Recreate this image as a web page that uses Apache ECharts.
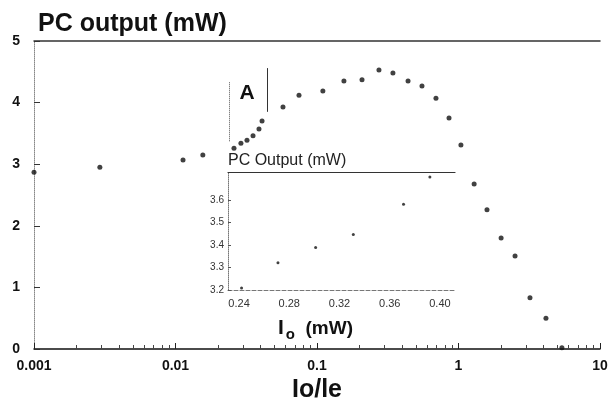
<!DOCTYPE html>
<html><head><meta charset="utf-8">
<script src="https://cdn.jsdelivr.net/npm/echarts@6/dist/echarts.min.js"></script>
<style>html,body{margin:0;padding:0;background:#fff}#c{width:615px;height:403px}</style>
</head><body><div id="c"></div>
<script>
// Main curve: PC output (mW) vs Io/Ie
const mainX = [0.001, 0.00292, 0.0113, 0.0156, 0.0259, 0.0290, 0.0320, 0.0353, 0.0389, 0.0409,
  0.0575, 0.0746, 0.110, 0.155, 0.208, 0.274, 0.344, 0.440, 0.552, 0.693, 0.857,
  1.04, 1.29, 1.59, 2.00, 2.51, 3.20, 4.15, 5.38];
const mainY = [2.87, 2.95, 3.07, 3.15, 3.26, 3.34, 3.39, 3.46, 3.57, 3.70,
  3.93, 4.12, 4.19, 4.35, 4.37, 4.53, 4.48, 4.35, 4.27, 4.07, 3.75,
  3.31, 2.68, 2.26, 1.80, 1.51, 0.83, 0.50, 0.02];
// Inset A: PC Output (mW) vs I0 (mW)
const insetX = [0.242, 0.271, 0.301, 0.331, 0.371, 0.392];
const insetY = [3.209, 3.321, 3.389, 3.447, 3.582, 3.703];
const insetXTicks = [0.24, 0.28, 0.32, 0.36, 0.40];
const insetYTicks = [3.2, 3.3, 3.4, 3.5, 3.6];
const mainYTicks = [0, 1, 2, 3, 4, 5];
// Region A bounds (Io/Ie, PC output)
const regionA = { left: 0.0239, leftY: [4.33, 3.36], right: 0.0444, rightY: [4.56, 3.85], label: [0.032, 4.16] };

const minorTicks = [];
[0.001, 0.01, 0.1, 1].forEach(d => { for (let k = 2; k <= 9; k++) minorTicks.push(+(d * k).toPrecision(3)); });

const FONT = 'Liberation Sans';
const chart = echarts.init(document.getElementById('c'));
chart.setOption({
  animation: false,
  backgroundColor: '#fff',
  textStyle: { fontFamily: FONT },
  title: { text: 'PC output (mW)', left: 33, top: 7,
    textStyle: { fontFamily: FONT, fontWeight: 'bold', fontSize: 25, color: '#111' } },
  grid: [
    { left: 34, right: 15, top: 41, bottom: 54, containLabel: false, outerBoundsMode: 'none' },
    { left: 228, right: 160, top: 172, bottom: 113, containLabel: false, outerBoundsMode: 'none' }
  ],
  xAxis: [
    { type: 'log', gridIndex: 0, min: 0.001, max: 10, logBase: 10, interval: 1, position: 'bottom',
      name: 'Io/le', nameLocation: 'middle', nameGap: 29,
      nameTextStyle: { fontFamily: FONT, fontWeight: 'bold', fontSize: 25, color: '#111' },
      axisLine: { lineStyle: { color: '#111', width: 1.5 } },
      axisTick: { inside: true, length: 6, lineStyle: { color: '#222' } },
      axisLabel: { fontFamily: FONT, fontWeight: 'bold', fontSize: 14, color: '#111', margin: 10,
        formatter: v => String(v) },
      splitLine: { show: false } },
    { type: 'log', gridIndex: 0, min: 0.001, max: 10, logBase: 10, position: 'bottom',
      axisLine: { show: false },
      axisTick: { show: true, inside: true, length: 4, customValues: minorTicks, lineStyle: { color: '#444' } },
      axisLabel: { show: false }, splitLine: { show: false } },
    { type: 'log', gridIndex: 0, min: 0.001, max: 10, logBase: 10, position: 'top',
      axisLine: { lineStyle: { color: '#333', width: 1.5 } },
      axisTick: { show: false }, axisLabel: { show: false }, splitLine: { show: false } },
    { type: 'value', gridIndex: 1, min: 0.2312, max: 0.412, position: 'bottom',
      name: '{i|I}{s|o}{m|  (mW)}', nameLocation: 'middle', nameGap: 25,
      nameTextStyle: { padding: [0, 52, 0, 0], rich: {
        i: { fontFamily: FONT, fontWeight: 'bold', fontSize: 21, color: '#111' },
        s: { fontFamily: FONT, fontWeight: 'bold', fontSize: 15, color: '#111', verticalAlign: 'bottom', padding: [12, 0, 0, 2] },
        m: { fontFamily: FONT, fontWeight: 'bold', fontSize: 19, color: '#111' } } },
      axisLine: { lineStyle: { color: '#777', width: 1, type: 'dashed' } },
      axisTick: { show: false },
      axisLabel: { customValues: insetXTicks, fontFamily: FONT, fontSize: 11, color: '#333', margin: 8,
        formatter: v => v.toFixed(2) },
      splitLine: { show: false } },
    { type: 'value', gridIndex: 1, min: 0.2312, max: 0.412, position: 'top',
      axisLine: { lineStyle: { color: '#333', width: 1.2 } },
      axisTick: { show: false }, axisLabel: { show: false }, splitLine: { show: false } }
  ],
  yAxis: [
    { type: 'value', gridIndex: 0, min: 0, max: 5, interval: 1,
      axisLine: { show: true, lineStyle: { color: '#888', type: 'dotted' } },
      axisTick: { show: true, inside: true, length: 6, customValues: mainYTicks, lineStyle: { color: '#333' } },
      axisLabel: { fontFamily: FONT, fontWeight: 'bold', fontSize: 14, color: '#111', margin: 14 },
      splitLine: { show: false } },
    { type: 'value', gridIndex: 1, min: 3.2, max: 3.725,
      name: 'PC Output (mW)', nameLocation: 'end', nameGap: 3,
      nameTextStyle: { fontFamily: FONT, fontSize: 16, color: '#222', align: 'left', padding: [0, 0, 0, 0] },
      axisLine: { show: true, lineStyle: { color: '#777', type: 'dotted' } },
      axisTick: { show: true, inside: true, length: 3, customValues: insetYTicks, lineStyle: { color: '#555' } },
      axisLabel: { customValues: insetYTicks, fontFamily: FONT, fontSize: 10, color: '#333', margin: 4,
        formatter: v => v.toFixed(1) },
      splitLine: { show: false } }
  ],
  series: [
    { type: 'scatter', xAxisIndex: 0, yAxisIndex: 0, symbolSize: 5,
      itemStyle: { color: '#111' },
      data: mainX.map((x, i) => [x, mainY[i]]),
      markLine: { silent: true, symbol: 'none', label: { show: false },
        data: [
          [{ coord: [regionA.left, regionA.leftY[0]], lineStyle: { color: '#555', type: 'dotted', width: 1 } },
           { coord: [regionA.left, regionA.leftY[1]] }],
          [{ coord: [regionA.right, regionA.rightY[0]], lineStyle: { color: '#333', type: 'solid', width: 1 } },
           { coord: [regionA.right, regionA.rightY[1]] }]
        ] },
      markPoint: { silent: true, symbol: 'circle', symbolSize: 0,
        label: { show: true, formatter: 'A', fontFamily: FONT, fontWeight: 'bold', fontSize: 21, color: '#111' },
        data: [{ coord: regionA.label }] } },
    { type: 'scatter', xAxisIndex: 3, yAxisIndex: 1, symbolSize: 3,
      itemStyle: { color: '#111' },
      data: insetX.map((x, i) => [x, insetY[i]]) }
  ]
});
</script></body></html>
